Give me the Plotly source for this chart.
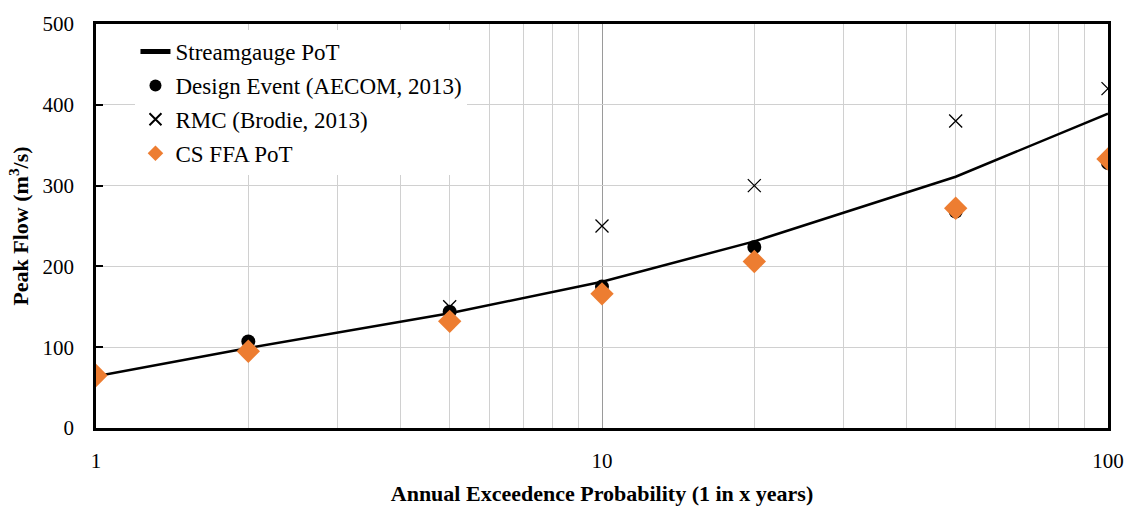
import plotly.graph_objects as go

# Data
aep = [1, 2, 5, 10, 20, 50, 100]
streamgauge_pot = [64, 99, 142, 181, 231, 311, 389]

design_x = [2, 5, 10, 20, 50, 100]
design_event = [107, 144, 175, 224, 268, 328]

rmc_x = [5, 10, 20, 50, 100]
rmc = [150, 250, 300, 380, 420]

csffa_x = [1, 2, 5, 10, 20, 50, 100]
cs_ffa_pot = [65, 95, 132, 166, 206, 272, 333]

x_tickvals = [1, 10, 100]
x_ticktext = ["1", "10", "100"]
y_tickvals = [0, 100, 200, 300, 400, 500]

FONT = "Liberation Serif"

fig = go.Figure()
fig.add_trace(go.Scatter(x=aep, y=streamgauge_pot, mode="lines",
                         name="Streamgauge PoT", legendgroup="a",
                         line=dict(color="black", width=2.5)))
fig.add_trace(go.Scatter(x=design_x, y=design_event, mode="markers",
                         name="Design Event (AECOM, 2013)", legendgroup="b",
                         marker=dict(symbol="circle", size=14, color="black")))
fig.add_trace(go.Scatter(x=rmc_x, y=rmc, mode="markers",
                         name="RMC (Brodie, 2013)", legendgroup="c",
                         marker=dict(symbol="x-thin", size=13,
                                     line=dict(color="black", width=1.3))))
fig.add_trace(go.Scatter(x=csffa_x, y=cs_ffa_pot, mode="markers",
                         name="CS FFA PoT", legendgroup="d",
                         marker=dict(symbol="diamond", size=18, color="#ED7D31")))

fig.update_layout(
    width=1126, height=506,
    margin=dict(l=96, r=18, t=24, b=78),
    paper_bgcolor="white", plot_bgcolor="white",
    font=dict(family=FONT, size=21, color="black"),
    showlegend=True,
    legend=dict(x=0.039, y=0.985, xanchor="left", yanchor="top",
                bgcolor="white", font=dict(family=FONT, size=23),
                tracegroupgap=1, itemsizing="constant"),
    xaxis=dict(type="log", range=[0, 2], automargin=False,
               tickvals=x_tickvals, ticktext=x_ticktext,
               showgrid=True, gridcolor="#9a9a9a", gridwidth=1.3,
               minor=dict(dtick="D1", showgrid=True, gridcolor="#d0d0d0",
                          gridwidth=1.3, ticks=""),
               ticks="", ticklabelstandoff=12,
               showline=True, linecolor="black", linewidth=2.5, mirror=True,
               zeroline=False,
               title=dict(text="<b>Annual Exceedence Probability (1 in x years)</b>",
                          font=dict(family=FONT, size=22), standoff=16)),
    yaxis=dict(range=[0, 500], tickvals=y_tickvals, automargin=False,
               showgrid=True, gridcolor="#d0d0d0", gridwidth=1.3,
               ticks="inside", ticklen=7, tickcolor="black", tickwidth=1.5,
               ticklabelstandoff=15,
               showline=True, linecolor="black", linewidth=2.5, mirror=True,
               zeroline=False,
               title=dict(text="<b>Peak Flow (m<sup>3</sup>/s)</b>",
                          font=dict(family=FONT, size=22), standoff=8)),
)

fig.write_html(
    "out.html",
    config={"displayModeBar": False},
    post_script="document.body.style.margin='0';document.body.style.overflow='hidden';",
)
